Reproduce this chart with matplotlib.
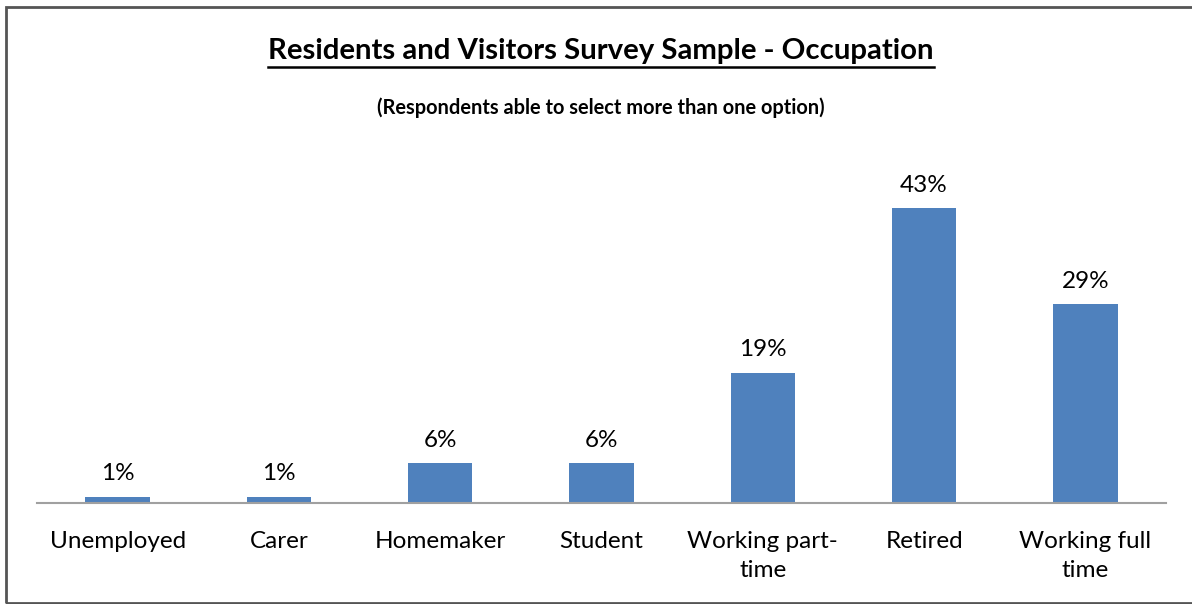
import matplotlib.pyplot as plt
from matplotlib.patches import Rectangle
from matplotlib.lines import Line2D

categories = ["Unemployed", "Carer", "Homemaker", "Student",
              "Working part-\ntime", "Retired", "Working full\ntime"]
values = [0.9, 0.9, 5.8, 5.8, 19.0, 43.0, 29.0]
labels = ["1%", "1%", "6%", "6%", "19%", "43%", "29%"]

plt.rcParams['font.family'] = ['Lato', 'DejaVu Sans']

W, H = 1192, 604
fig = plt.figure(figsize=(W / 100, H / 100), dpi=100)
ax = fig.add_axes([37 / W, 1 - 503 / H, (1166 - 37) / W, (503 - 160) / H])

x = range(len(categories))
ax.bar(x, values, width=0.4, color='#4F81BD')
for i, v in enumerate(values):
    ax.text(i, v + 1.8, labels[i], ha='center', va='bottom', fontsize=17.5)

ax.set_xlim(-0.5, len(categories) - 0.5)
ax.set_ylim(0, 50)
ax.set_xticks(list(x))
ax.set_xticklabels(categories, fontsize=17.5, linespacing=1.5)
ax.tick_params(axis='x', length=0, pad=20)
ax.set_yticks([])
for s in ['top', 'left', 'right']:
    ax.spines[s].set_visible(False)
ax.spines['bottom'].set_color('#A0A0A0')
ax.spines['bottom'].set_linewidth(1.5)

t = fig.text(601 / W, 1 - 51 / H, "Residents and Visitors Survey Sample - Occupation",
             ha='center', va='center', fontsize=21.2, fontweight='bold')
fig.text(601 / W, 1 - 108 / H, "(Respondents able to select more than one option)",
         ha='center', va='center', fontsize=14.4, fontweight='bold')

# underline for the title
fig.canvas.draw()
bb = t.get_window_extent().transformed(fig.transFigure.inverted())
fig.add_artist(Line2D([bb.x0, bb.x1], [1 - 67 / H, 1 - 67 / H],
                      transform=fig.transFigure, color='black', linewidth=1.8))

# outer border
fig.add_artist(Rectangle((6 / W, 1 / H), 1.0, 1 - 8 / H, transform=fig.transFigure,
                         fill=False, edgecolor='#555555', linewidth=2))

fig.savefig('out.png', dpi=100)
